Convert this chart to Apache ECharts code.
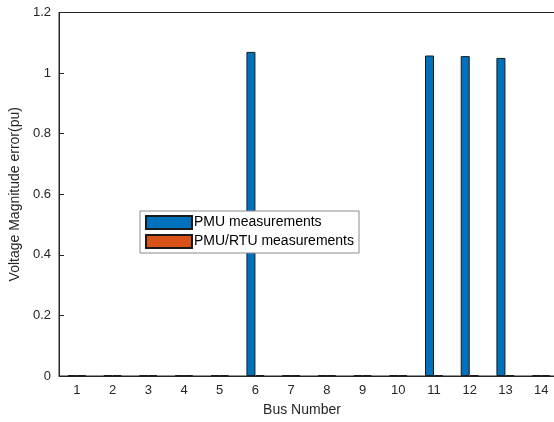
<!DOCTYPE html>
<html><head><meta charset="utf-8">
<script src="https://cdn.jsdelivr.net/npm/echarts@6/dist/echarts.min.js"></script>
<style>html,body{margin:0;padding:0;background:#fff;overflow:hidden;width:554px;height:422px}#c{width:562px;height:422px}</style>
</head><body><div id="c"></div>
<script>
const buses = ['1','2','3','4','5','6','7','8','9','10','11','12','13','14'];
const pmuValues = [0.002,0.002,0.002,0.002,0.002,1.07,0.002,0.002,0.002,0.002,1.058,1.056,1.05,0.002];
const pmuRtuValues = [0.002,0.002,0.002,0.002,0.002,0.002,0.002,0.002,0.002,0.002,0.002,0.002,0.002,0.002];
const yTicks = [0,0.2,0.4,0.6,0.8,1,1.2];

const axisColor = '#262626';
const font = 'Liberation Sans, Arial, sans-serif';
const chart = echarts.init(document.getElementById('c'));
chart.setOption({
  animation: false,
  grid: {left: 59, right: 3, top: 12.5, bottom: 46, show: true, borderColor: axisColor, borderWidth: 1},
  legend: {
    orient: 'vertical', left: 140, top: 211,
    icon: 'rect',
    itemWidth: 46, itemHeight: 13, itemGap: 4,
    padding: [4, 5, 4, 5],
    backgroundColor: '#fff', borderColor: '#8c8c8c', borderWidth: 1, borderRadius: 0,
    textStyle: {fontFamily: font, fontSize: 14, color: '#000', padding: [0,0,0,-3]},
    data: ['PMU measurements', 'PMU/RTU measurements']
  },
  xAxis: [{
    type: 'category', data: buses, boundaryGap: true,
    axisLine: {lineStyle: {color: axisColor}},
    axisTick: {inside: true, length: 5, alignWithLabel: true, lineStyle: {color: axisColor}},
    axisLabel: {fontFamily: font, fontSize: 13, color: axisColor, margin: 8}
  }, {
    type: 'category', data: buses, position: 'top', boundaryGap: true,
    axisLine: {lineStyle: {color: axisColor}},
    axisTick: {inside: true, length: 5, alignWithLabel: true, lineStyle: {color: axisColor}},
    axisLabel: {show: false}
  }],
  yAxis: {
    type: 'value', min: yTicks[0], max: yTicks[yTicks.length-1], interval: 0.2,
    name: 'Voltage Magnitude error(pu)', nameLocation: 'middle', nameGap: 30,
    nameTextStyle: {fontFamily: font, fontSize: 14, color: axisColor},
    axisLine: {show: true, lineStyle: {color: axisColor}},
    axisTick: {show: true, inside: true, length: 5, lineStyle: {color: axisColor}},
    axisLabel: {fontFamily: font, fontSize: 13, color: axisColor, margin: 8},
    splitLine: {show: false}
  },
  graphic: [{
    type: 'text', x: 302, y: 403,
    style: {text: 'Bus Number', fontFamily: font, fontSize: 14, fill: axisColor, textAlign: 'center'}
  }],
  series: [{
    name: 'PMU measurements', type: 'bar', data: pmuValues,
    barWidth: 9, barGap: '0%',
    itemStyle: {color: '#0072BD', borderColor: '#1a1a1a', borderWidth: 1}
  }, {
    name: 'PMU/RTU measurements', type: 'bar', data: pmuRtuValues,
    barWidth: 9, barGap: '0%',
    itemStyle: {color: '#D95319', borderColor: '#1a1a1a', borderWidth: 1}
  }]
});
</script></body></html>
